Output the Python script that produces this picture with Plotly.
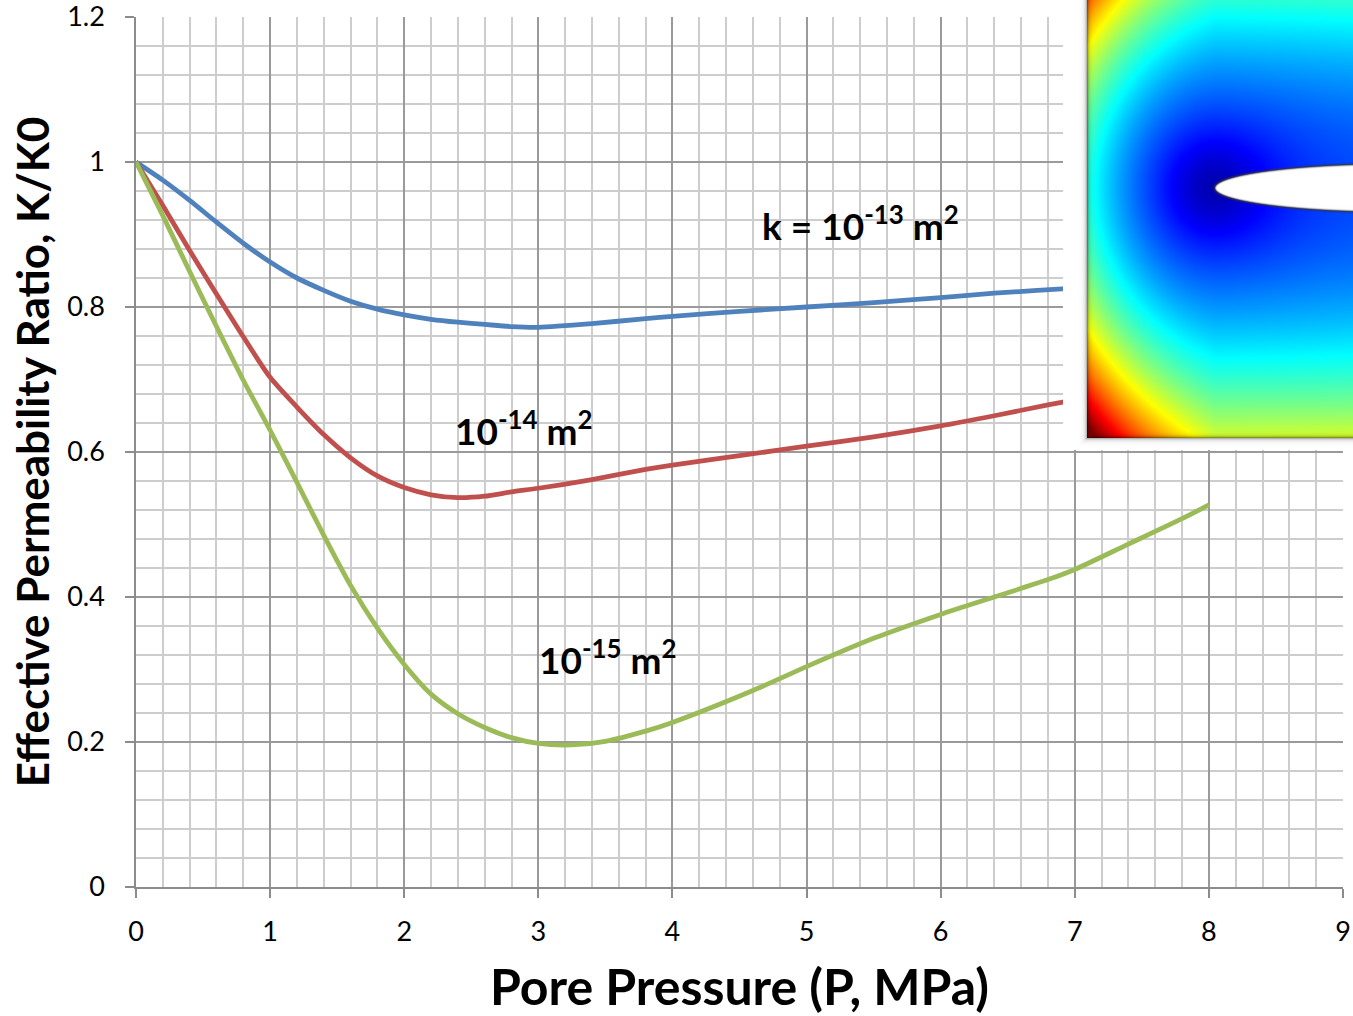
import base64
import struct
import zlib

import numpy as np
import plotly.graph_objects as go

# ---------------- data ----------------
x_k13 = [0, 0.2, 0.4, 0.6, 0.8, 1.0, 1.2, 1.4, 1.6, 1.8, 2.0, 2.2, 2.4, 2.6, 2.8, 3.0,
         3.4, 3.8, 4.0, 4.5, 5.0, 5.5, 6.0, 6.4, 7.0, 8.0]
y_k13 = [1.0, 0.975, 0.947, 0.917, 0.888, 0.862, 0.840, 0.823, 0.808, 0.797, 0.789, 0.783,
         0.779, 0.776, 0.773, 0.772, 0.777, 0.784, 0.787, 0.794, 0.800, 0.806, 0.813, 0.819,
         0.826, 0.838]

x_k14 = [0, 0.2, 0.4, 0.6, 0.8, 1.0, 1.2, 1.4, 1.6, 1.8, 2.0, 2.2, 2.4, 2.6, 2.8, 3.0,
         3.4, 3.8, 4.0, 4.5, 5.0, 5.5, 6.0, 6.4, 6.8, 7.0, 8.0]
y_k14 = [1.0, 0.940, 0.878, 0.818, 0.759, 0.703, 0.662, 0.624, 0.592, 0.567, 0.551, 0.541,
         0.537, 0.539, 0.545, 0.550, 0.562, 0.576, 0.582, 0.595, 0.608, 0.621, 0.636, 0.650,
         0.665, 0.672, 0.710]

x_k15 = [0, 0.2, 0.4, 0.6, 0.8, 1.0, 1.2, 1.4, 1.6, 1.8, 2.0, 2.2, 2.4, 2.6, 2.8, 3.0,
         3.25, 3.5, 3.8, 4.0, 4.6, 5.0, 5.5, 6.0, 6.4, 6.8, 7.0, 7.4, 7.8, 8.0]
y_k15 = [1.0, 0.926, 0.849, 0.773, 0.699, 0.630, 0.558, 0.485, 0.416, 0.357, 0.307, 0.266,
         0.239, 0.220, 0.206, 0.198, 0.196, 0.201, 0.215, 0.227, 0.271, 0.304, 0.343,
         0.376, 0.400, 0.424, 0.438, 0.473, 0.508, 0.527]

series_names = ["k = 1e-13 m²", "1e-14 m²", "1e-15 m²"]
series_colors = ["#4F81BD", "#C0504D", "#9BBB59"]

label_texts = ["k = 10<sup>-13</sup> m<sup>2</sup>", "10<sup>-14</sup> m<sup>2</sup>",
               "10<sup>-15</sup> m<sup>2</sup>"]
label_x = [4.65, 2.36, 2.99]
label_y = [0.916, 0.633, 0.317]

x_title = "Pore Pressure (P, MPa)"
y_title = "Effective Permeability Ratio, K/K0"

FIG_W, FIG_H = 1353, 1016
L, T, PW, PH = 136, 17, 1207, 870
R, B = FIG_W - L - PW, FIG_H - T - PH


# ---------------- inset picture (pressure-field sketch) ----------------
def jet(t):
    r = np.clip(1.5 - np.abs(4 * t - 3), 0, 1)
    g = np.clip(1.5 - np.abs(4 * t - 2), 0, 1)
    b = np.clip(1.5 - np.abs(4 * t - 1), 0, 1)
    return np.stack([r, g, b], axis=-1)


def make_inset(px0, py0, W, H):
    Xg = np.arange(W)[None, :] + px0 + 0.5
    Yg = np.arange(H)[:, None] + py0 + 0.5
    Xg, Yg = np.broadcast_arrays(Xg, Yg)
    tipx, tipy = 1215.0, 188.0
    dxl = np.clip(tipx - Xg, 0, None)
    dy = np.abs(Yg - tipy)
    r = np.hypot(Xg - tipx, Yg - tipy)
    Rr = 60.0
    base = 0.05 + 0.17 * (r / Rr) ** 2 / (1 + (r / Rr) ** 2)
    c = 6.0e-6 + 4.0e-6 * np.clip(dxl / 127.0, 0, 1)
    t = np.clip(base + c * ((1.17 * dxl) ** 2 + dy ** 2), 0, 1)
    col = jet(t)

    # crack (ellipse)
    xc, yc, a, b = 1398.0, 188.0, 183.0, 24.0
    e = np.sqrt(((Xg - xc) / a) ** 2 + ((Yg - yc) / b) ** 2) + 1e-9
    gx = (Xg - xc) / (a * a * e)
    gy = (Yg - yc) / (b * b * e)
    d = (e - 1) / np.hypot(gx, gy)
    fill = np.clip(0.5 - d, 0, 1)[..., None]
    col = col * (1 - fill) + 1.0 * fill
    wo = (0.7 * np.exp(-((d - 0.3) / 1.3) ** 2))[..., None]
    col = col * (1 - wo) + 0.2 * wo

    # inner edge darkening (left and bottom)
    left, bottom = 1087.0, 438.0
    din = np.minimum(Xg - left, bottom - Yg)
    dark = (1 - 0.55 * np.exp(-np.clip(din, 0, None) / 1.6))[..., None]
    col = col * dark

    inside = (Xg >= left) & (Yg <= bottom)
    out = np.ones((H, W, 3))
    out[inside] = col[inside]
    dox = np.clip(left - Xg, 0, None)
    doy = np.clip(Yg - bottom, 0, None)
    dout = np.maximum(dox, doy)
    sh = 0.55 * np.exp(-dout / 1.8)
    mask = (~inside) & (Xg > left - 8) & (Yg < bottom + 8)
    sh3 = sh[..., None]
    out[mask] = (1 - sh3[mask]) * 1.0 + sh3[mask] * 0.3
    return (np.clip(out, 0, 1) * 255).astype(np.uint8)


def png_data_uri(arr):
    h, w, _ = arr.shape
    raw = b"".join(b"\x00" + arr[y].tobytes() for y in range(h))

    def chunk(tag, data):
        body = tag + data
        return struct.pack(">I", len(data)) + body + struct.pack(">I", zlib.crc32(body) & 0xFFFFFFFF)

    png = (b"\x89PNG\r\n\x1a\n"
           + chunk(b"IHDR", struct.pack(">IIBBBBB", w, h, 8, 2, 0, 0, 0))
           + chunk(b"IDAT", zlib.compress(raw, 9))
           + chunk(b"IEND", b""))
    return "data:image/png;base64," + base64.b64encode(png).decode()


# inset occupies page pixels x 1063..1353, y 0..450
INS_X0, INS_Y0, INS_W, INS_H = 1063, 0, 290, 450
inset_src = png_data_uri(make_inset(INS_X0, INS_Y0, INS_W, INS_H))

# ---------------- figure ----------------
fig = go.Figure()
for xs, ys, name, color in zip([x_k13, x_k14, x_k15], [y_k13, y_k14, y_k15],
                               series_names, series_colors):
    fig.add_trace(go.Scatter(x=xs, y=ys, mode="lines", name=name,
                             line=dict(color=color, width=4.8, shape="spline", smoothing=0.7)))

for txt, lx, ly in zip(label_texts, label_x, label_y):
    fig.add_annotation(x=lx, y=ly, xref="x", yref="y", text=txt, showarrow=False,
                       xanchor="left", yanchor="middle",
                       font=dict(family="Lato", size=37, color="black", weight="bold"))

fig.add_layout_image(dict(source=inset_src, xref="paper", yref="paper",
                          x=(INS_X0 - L) / PW,
                          y=(T + PH - INS_Y0) / PH,
                          sizex=INS_W / PW, sizey=INS_H / PH,
                          xanchor="left", yanchor="top", sizing="stretch", layer="above"))

axis_common = dict(showline=True, linecolor="#8c8c8c", linewidth=1.5,
                   ticks="outside", ticklen=9, tickwidth=1.5, tickcolor="#8c8c8c",
                   showgrid=True, gridcolor="#9a9a9a", gridwidth=1.5, zeroline=False,
                   ticklabeloverflow="allow",
                   tickfont=dict(family="Lato", size=27, color="black"))

fig.update_xaxes(range=[0, 9], dtick=1, tick0=0, automargin=False,
                 minor=dict(dtick=0.2, showgrid=True, gridcolor="#cdcdcd", gridwidth=1.5, ticks=""),
                 ticklabelstandoff=11,
                 title=dict(text=x_title, standoff=39,
                            font=dict(family="Lato", size=50, color="black", weight="bold")),
                 **axis_common)
fig.update_yaxes(range=[0, 1.2], dtick=0.2, tick0=0, automargin=True,
                 minor=dict(dtick=0.04, showgrid=True, gridcolor="#cdcdcd", gridwidth=1.5, ticks=""),
                 ticklabelstandoff=15,
                 title=dict(text=y_title, standoff=4,
                            font=dict(family="Lato", size=44, color="black", weight="bold")),
                 **axis_common)

fig.update_layout(width=FIG_W, height=FIG_H, margin=dict(l=L, r=R, t=T, b=B, autoexpand=False),
                  paper_bgcolor="white", plot_bgcolor="white", showlegend=False)

# remove the default page margin so the figure sits at the window's top-left corner
fig.write_html("out.html", config={"displayModeBar": False},
               post_script="document.body.style.margin='0';document.body.style.overflow='hidden';")
